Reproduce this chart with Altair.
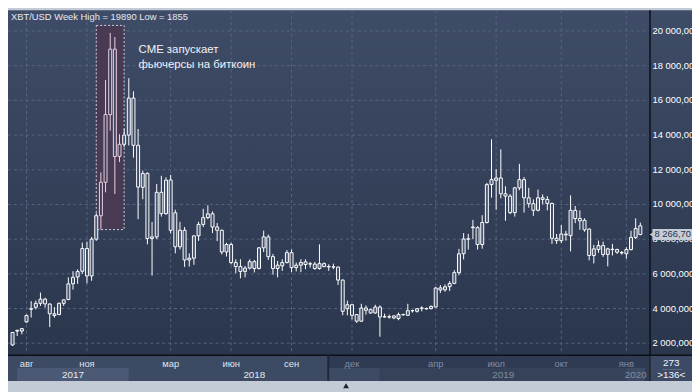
import altair as alt
import pandas as pd

# ---- weekly candles (index = candle number on the chart) ----
opens = [
    1900, 2740, 2700, 3230, 3990, 4070, 4300, 4540, 4260, 3600,
    3650, 4300, 4520, 5430, 5820, 6150, 7460, 5880, 8000, 9350,
    11280, 15180, 18950, 12770, 13470, 14000, 16130, 13410, 10990, 11790,
    8040, 8130, 10700, 9470, 11410, 9520, 7560, 8510, 6800, 6900,
    8190, 8850, 9240, 9460, 8700, 8510, 7260, 7690, 6650, 6420,
    6140, 6330, 6700, 6310, 7500, 8130, 6990, 6310, 6460, 6650,
    7220, 6360, 6500, 6690, 6580, 6560, 6310, 6590, 6420, 6400,
    6390, 5640, 3990, 4220, 3650, 3270, 4030, 3935, 3745, 4085,
    3530, 3525, 3575, 3420, 3655, 3610, 3880, 3840, 4020, 3980,
    3995, 4090, 5070, 5080, 5260, 5450, 6070, 7160, 8000, 8700,
    8660, 7690, 8960, 11145, 11390, 11525, 10615, 10480, 9530, 10955,
    11430, 10385, 10045, 9665, 10290, 10290, 10060, 8050, 7915, 8290,
    8200, 9660, 9190, 9090, 8580, 7060, 7400, 7630, 7120, 7420,
    7400, 7230, 7160, 7400, 8100, 8770]
highs = [
    2650, 2780, 2880, 3650, 4430, 4460, 4920, 4620, 4300, 4080,
    4350, 4520, 5800, 6150, 6260, 7800, 7850, 8120, 9500, 11850,
    17180, 19890, 19650, 14050, 14340, 17280, 16520, 14350, 11950, 11850,
    8990, 11180, 11650, 11560, 11700, 9700, 9000, 8700, 7180, 8230,
    9000, 9750, 9950, 9600, 8930, 8550, 7790, 7790, 6840, 6840,
    6460, 6840, 6800, 7550, 8490, 8260, 7150, 6740, 6840, 7370,
    7400, 6650, 6840, 6840, 6690, 6690, 7700, 6650, 6550, 6590,
    6420, 5680, 4460, 4250, 3680, 4275, 4180, 3990, 4220, 4180,
    3705, 3650, 3610, 3765, 3705, 4275, 3935, 4030, 4125, 4060,
    4180, 5250, 5350, 5390, 5580, 6210, 7440, 8350, 8300, 9110,
    8750, 9380, 11240, 13750, 12040, 13180, 11050, 10600, 11010, 12340,
    11580, 10955, 10290, 10860, 10575, 10480, 10100, 8300, 8810, 8485,
    10520, 9910, 9660, 9200, 8620, 7670, 7915, 7860, 7500, 7725,
    7450, 7320, 7535, 8485, 9200, 8950]
lows = [
    1855, 2420, 2510, 3180, 3480, 3950, 4150, 4060, 2930, 3470,
    3620, 4150, 4480, 5090, 5420, 6000, 5450, 5600, 7900, 8550,
    10700, 14250, 10600, 12440, 13300, 13400, 12700, 9150, 10300, 7700,
    5900, 8000, 9300, 9400, 8320, 7180, 7400, 6400, 6420, 6520,
    7900, 8700, 9150, 8350, 7890, 7120, 7000, 6550, 6040, 5740,
    5800, 6250, 6080, 6250, 7260, 6800, 5950, 5800, 6170, 6600,
    6100, 6140, 6100, 6270, 6360, 6230, 6240, 6380, 6170, 6270,
    5360, 3610, 3610, 3365, 3175, 3230, 3650, 3700, 3700, 2380,
    3480, 3420, 3385, 3325, 3575, 3590, 3765, 3765, 3840, 3940,
    3950, 4060, 4900, 4970, 5010, 5400, 5920, 6830, 7400, 8010,
    7400, 7450, 8900, 10390, 9690, 10350, 9060, 9440, 9300, 10820,
    9530, 9815, 9340, 9600, 10005, 9665, 7730, 7730, 7780, 7915,
    7290, 8920, 8540, 8430, 6780, 6600, 7210, 6985, 6430, 7060,
    7150, 7100, 6870, 7345, 8010, 8220]
closes = [
    2620, 2700, 2840, 3600, 3960, 4300, 4540, 4270, 3700, 3700,
    4300, 4500, 5420, 5800, 6130, 7460, 5880, 8000, 9350, 11280,
    15180, 18950, 12760, 13470, 14000, 16130, 13410, 11000, 11790, 8040,
    8130, 10700, 9470, 11400, 8510, 7560, 8510, 6800, 6900, 8190,
    8850, 9240, 9460, 8700, 8510, 7260, 7690, 6650, 6420, 6140,
    6330, 6700, 6310, 7500, 8130, 6990, 6310, 6500, 6650, 7220,
    6360, 6500, 6650, 6540, 6570, 6310, 6590, 6420, 6400, 6390,
    5640, 3840, 4220, 3610, 3270, 4030, 3900, 3745, 4085, 3515,
    3515, 3510, 3460, 3650, 3645, 3877, 3870, 3990, 4030, 4000,
    4120, 5180, 5190, 5250, 5440, 6070, 7155, 8010, 8020, 8660,
    7690, 8960, 11145, 11430, 11525, 10615, 10480, 9530, 10955, 11430,
    10385, 10045, 9665, 10385, 10385, 10060, 8050, 7915, 8295, 8250,
    9660, 9190, 9055, 8540, 7060, 7440, 7630, 7120, 7440, 7400,
    7250, 7210, 7400, 8100, 8610, 8266.7]

# x-axis labels (candle index of first candle of the month)
month_idx = [3, 16, 34, 47, 60, 73, 91, 104, 118, 132]
month_lbl = ["авг", "ноя", "мар", "июн", "сен", "дек", "апр", "июл", "окт", "янв"]
years = ["2017", "2018", "2019", "2020"]
year_start = [1, 25, 79, 132]
year_end = [25, 79, 132, 136]
price_ticks = [2000, 4000, 6000, 8000, 10000, 12000, 14000, 16000, 18000, 20000]
cme_k = [18.0, 24.0]          # highlighted range (candle index)
cme_price = [8550, 20320]
note = ["CME запускает", "фьючерсы на биткоин"]
info_lines = ["273", ">136<"]

FONT = "Liberation Sans"
W, H = 649, 349

n = len(opens)
df = pd.DataFrame({"k": list(range(n)), "o": opens, "h": highs, "l": lows, "c": closes})
df["top"] = df[["o", "c"]].max(axis=1)
df["bot"] = df[["o", "c"]].min(axis=1)
df["cme"] = ["c" if (cme_k[0] < k < cme_k[1]) else "n" for k in df["k"]]
df["kind"] = df["cme"] + ["u" if c >= o else "d" for o, c in zip(df["o"], df["c"])]

xs = alt.Scale(domain=[0.084, 135.91], nice=False, zero=False)
ys = alt.Scale(domain=[1311, 21197], nice=False, zero=False)
X = alt.X("k:Q", scale=xs, axis=None)

one = pd.DataFrame({"a": [0]})

grad = alt.Gradient(
    gradient="linear",
    stops=[alt.GradientStop(color="#3f4c67", offset=0),
           alt.GradientStop(color="#2a364c", offset=1)],
    x1=0, x2=0, y1=0, y2=1)

bg = alt.Chart(one).mark_rect(fill=grad).encode(
    x=alt.value(0), x2=alt.value(692), y=alt.value(0), y2=alt.value(H))

# bottom axis bar
bar_left = alt.Chart(one).mark_rect(fill="#3c4a64").encode(
    x=alt.value(0), x2=alt.value(324), y=alt.value(H), y2=alt.value(375))
bar_right = alt.Chart(one).mark_rect(fill="#2f3b52").encode(
    x=alt.value(324), x2=alt.value(649), y=alt.value(H), y2=alt.value(375))
info_box = alt.Chart(one).mark_rect(fill="#3c4a65").encode(
    x=alt.value(650), x2=alt.value(692), y=alt.value(H), y2=alt.value(375))
info_sep = alt.Chart(one).mark_rule(color="#5d6b86", strokeWidth=1).encode(
    x=alt.value(662), x2=alt.value(682), y=alt.value(363.5))

ydf = pd.DataFrame({"year": years, "s": year_start, "e": year_end})
ydf["mid"] = (ydf["s"] + ydf["e"]) / 2
year_band = alt.Chart(ydf).mark_rect().encode(
    x=alt.X("s:Q", scale=xs, axis=None), x2="e:Q",
    y=alt.value(362), y2=alt.value(375),
    fill=alt.Fill("year:N", scale=alt.Scale(domain=years,
                  range=["#4b5975", "#3c4a64", "#35425a", "#3e4b64"]), legend=None))
year_text = alt.Chart(ydf).mark_text(font=FONT, fontSize=10, baseline="middle").encode(
    x=alt.X("mid:Q", scale=xs, axis=None), y=alt.value(369), text="year:N",
    color=alt.condition("datum.mid < 68", alt.value("#e6ebf2"), alt.value("#7f8ca2")))

mdf = pd.DataFrame({"k": month_idx, "lbl": month_lbl})
month_text = alt.Chart(mdf).mark_text(font=FONT, fontSize=9.5, baseline="middle").encode(
    x=X, y=alt.value(357.5), text="lbl:N",
    color=alt.condition("datum.k < 68", alt.value("#dfe5ee"), alt.value("#7f8ca2")))

sep = alt.Chart(one).mark_rule(color="#1e2839", strokeWidth=2).encode(
    x=alt.value(324), y=alt.value(H), y2=alt.value(375))

# grid
hgrid = alt.Chart(pd.DataFrame({"p": price_ticks})).mark_rule(
    color="#56647f", strokeDash=[3, 3], strokeWidth=1).encode(
    y=alt.Y("p:Q", scale=ys, axis=None), x=alt.value(0), x2=alt.value(W))
vgrid = alt.Chart(mdf).mark_rule(color="#56647f", strokeDash=[3, 3], strokeWidth=1).encode(
    x=X, y=alt.value(0), y2=alt.value(H))

# CME box
bdf = pd.DataFrame({"k0": [cme_k[0]], "k1": [cme_k[1]], "lo": [cme_price[0]], "hi": [cme_price[1]]})
box = alt.Chart(bdf).mark_rect(fill="#473a52", stroke="#d6cde0", strokeDash=[2, 2],
                               strokeWidth=1).encode(
    x=alt.X("k0:Q", scale=xs, axis=None), x2="k1:Q",
    y=alt.Y("lo:Q", scale=ys, axis=None), y2="hi:Q")

stroke_enc = alt.Stroke("cme:N", scale=alt.Scale(domain=["c", "n"],
                        range=["#f2d0e2", "#ffffff"]), legend=None)

wick_up = alt.Chart(df).mark_rule(strokeWidth=1).encode(
    x=X, y=alt.Y("h:Q", scale=ys, axis=None), y2="top:Q", stroke=stroke_enc)
wick_dn = alt.Chart(df).mark_rule(strokeWidth=1).encode(
    x=X, y=alt.Y("bot:Q", scale=ys, axis=None), y2="l:Q", stroke=stroke_enc)
body = alt.Chart(df).mark_bar(width=3, strokeWidth=1).encode(
    x=X, y=alt.Y("o:Q", scale=ys, axis=None), y2="c:Q",
    fill=alt.Fill("kind:N", scale=alt.Scale(domain=["nu", "nd", "cu", "cd"],
                  range=["#8ea7d1", "transparent", "#d6bcd6", "transparent"]), legend=None),
    stroke=stroke_enc)

# frame lines
hline = alt.Chart(one).mark_rule(color="#0c1118", strokeWidth=1.5).encode(
    x=alt.value(0), x2=alt.value(692), y=alt.value(H))
vline = alt.Chart(one).mark_rule(color="#0c1118", strokeWidth=1.5).encode(
    x=alt.value(649.5), y=alt.value(0), y2=alt.value(375))

# y labels (right)
ylab = pd.DataFrame({"p": price_ticks})
ylab["t"] = [f"{p // 1000} 000,0000" for p in price_ticks]
ytext = alt.Chart(ylab).mark_text(font=FONT, fontSize=9.5, align="left",
                                  baseline="middle", color="#ffffff").encode(
    y=alt.Y("p:Q", scale=ys, axis=None), x=alt.value(652), text="t:N")

# last price marker
last = closes[-1]
lp = pd.DataFrame({"p": [last], "t": [f"{last:,.2f}".replace(",", " ").replace(".", ",")]})
lp_box = alt.Chart(lp).mark_tick(orient="horizontal", thickness=11, size=40,
                                 color="#c4ccd8", opacity=1).encode(
    y=alt.Y("p:Q", scale=ys, axis=None), x=alt.value(672))
lp_ptr = alt.Chart(lp).mark_point(shape="triangle-left", filled=True, size=22,
                                  color="#c4ccd8", opacity=1).encode(
    y=alt.Y("p:Q", scale=ys, axis=None), x=alt.value(651))
lp_text = alt.Chart(lp).mark_text(font=FONT, fontSize=9.5, align="left",
                                  baseline="middle", color="#2b3343").encode(
    y=alt.Y("p:Q", scale=ys, axis=None), x=alt.value(654), text="t:N")

# title + annotation
title_txt = f"XBT/USD Week High = {max(highs)} Low = {min(lows)}"
title = alt.Chart(one).mark_text(text=title_txt, font=FONT, fontSize=9.5, align="left",
                                 baseline="middle", color="#e4eaf2").encode(
    x=alt.value(3), y=alt.value(7))
ann = alt.Chart(one).mark_text(text=note, font=FONT, fontSize=11.5, align="left",
                               baseline="top", lineHeight=15, color="#f0f3f8").encode(
    x=alt.value(132), y=alt.value(34))

info_top = alt.Chart(one).mark_text(text=info_lines[0], font=FONT, fontSize=10,
                                    baseline="middle", color="#f2f5f9").encode(
    x=alt.value(671), y=alt.value(357))
info_bot = alt.Chart(one).mark_text(text=info_lines[1], font=FONT, fontSize=10,
                                    baseline="middle", color="#f2f5f9").encode(
    x=alt.value(671), y=alt.value(369))

tri = alt.Chart(one).mark_point(shape="triangle-up", filled=True, size=35,
                                color="#1c2433", opacity=1).encode(
    x=alt.value(342), y=alt.value(380))

chart = alt.layer(
    bg, bar_left, bar_right, year_band, info_box, info_sep, hgrid, vgrid, box,
    wick_up, wick_dn, body, hline, vline, sep, month_text, year_text,
    ytext, lp_box, lp_ptr, lp_text, title, ann, info_top, info_bot, tri
).resolve_scale(y="shared").properties(
    width=W, height=H,
    padding={"left": 0, "top": 0, "right": 43, "bottom": 35},
    autosize=alt.AutoSizeParams(type="none"),
    background="#c3cbd6",
).configure_view(stroke=None)

chart.save("out.html", embed_options={"renderer": "svg", "actions": False})
